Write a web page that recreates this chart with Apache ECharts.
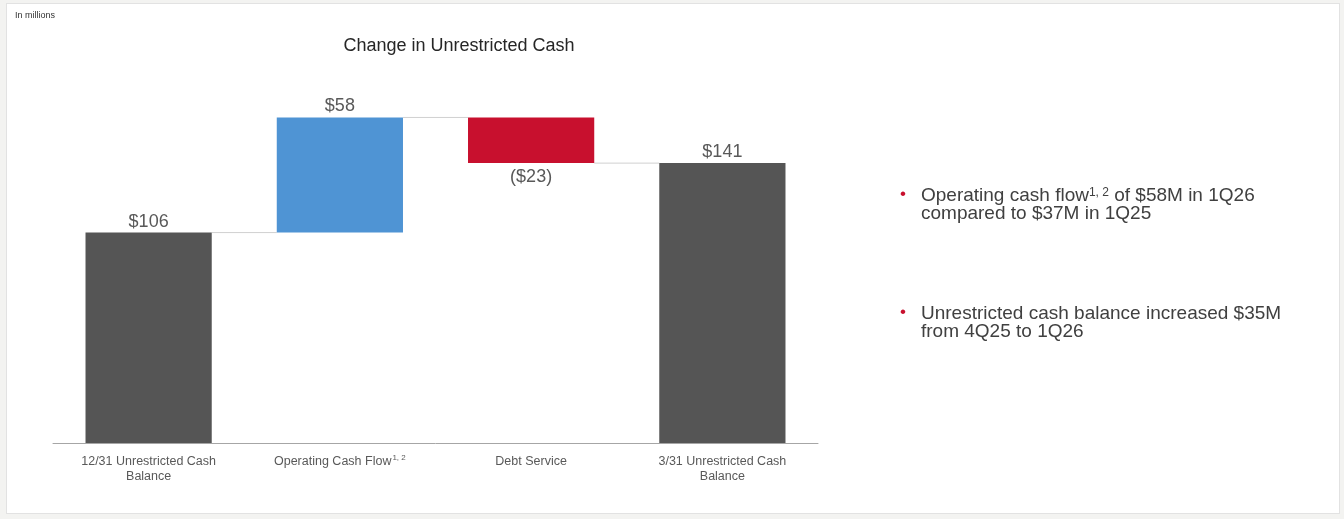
<!DOCTYPE html>
<html>
<head>
<meta charset="utf-8">
<script src="https://cdn.jsdelivr.net/npm/echarts@6/dist/echarts.min.js"></script>
<style>
  html, body { margin: 0; padding: 0; background: #f3f3f1; }
  #frame { position: absolute; left: 6px; top: 3px; width: 1334px; height: 511px; background: #ffffff; border: 1px solid #e2e2e2; box-sizing: border-box; }
  #chart { position: absolute; left: 0; top: 0; width: 1344px; height: 519px; }
</style>
</head>
<body>
<div id="frame"></div>
<div id="chart"></div>
<script>
// Cash walk, in millions
const categories = ['12/31 Unrestricted Cash\nBalance', 'Operating Cash Flow', 'Debt Service', '3/31 Unrestricted Cash\nBalance'];
const changes = [106, 58, -23, 141];          // start balance, flows, end balance
const isTotal = [true, false, false, true];
const barColors = ['#555555', '#4f94d4', '#c8102e', '#555555'];
const bullets = [
  ['Operating cash flow', '1, 2', ' of $58M in 1Q26', 'compared to $37M in 1Q25'],
  ['Unrestricted cash balance increased $35M', '', '', 'from 4Q25 to 1Q26']
];

// Build floating bars: invisible base + visible segment
const base = [], seg = [], levels = [];
let running = 0;
changes.forEach((v, i) => {
  if (isTotal[i]) {
    base.push(0); seg.push(v); running = v;
  } else {
    const next = running + v;
    base.push(Math.min(running, next)); seg.push(Math.abs(v)); running = next;
  }
  levels.push(running);
});

const fmt = v => v < 0 ? '($' + Math.abs(v) + ')' : '$' + v;

const chart = echarts.init(document.getElementById('chart'), null, { renderer: 'canvas' });
const FONT = 'Liberation Sans, Arial, sans-serif';

const bulletGraphics = [];
bullets.forEach((b, i) => {
  const y0 = 185 + i * 118;
  bulletGraphics.push({
    type: 'text', left: 900, top: y0 + 1,
    style: { text: '•', fill: '#c8102e', font: '17px ' + FONT }
  });
  bulletGraphics.push({
    type: 'text', left: 921, top: y0 + 1,
    style: {
      text: '{a|' + b[0] + '}' + (b[1] ? '{s|' + b[1] + '}' : '') + (b[2] ? '{a|' + b[2] + '}' : '') + '\n{a|' + b[3] + '}',
      rich: {
        a: { fontSize: 19, fontFamily: FONT, fill: '#404040', lineHeight: 18 },
        s: { fontSize: 12, fontFamily: FONT, fill: '#404040', lineHeight: 18, verticalAlign: 'top', padding: [0, 0, 7, 0] }
      }
    }
  });
});

chart.setOption({
  animation: false,
  backgroundColor: 'transparent',
  title: {
    text: 'Change in Unrestricted Cash',
    left: 454, top: 32, textAlign: 'center',
    textStyle: { fontSize: 18, fontWeight: 'normal', color: '#262626', fontFamily: FONT }
  },
  graphic: [
    { type: 'text', left: 15, top: 11, style: { text: 'In millions', fill: '#333333', font: '9px ' + FONT } }
  ].concat(bulletGraphics),
  grid: { left: 53, right: 526, top: 46, bottom: 76 },
  xAxis: {
    type: 'category',
    data: categories,
    axisTick: { show: false },
    axisLine: { lineStyle: { color: '#a6a6a6', width: 1 } },
    axisLabel: {
      interval: 0, margin: 11, color: '#595959', fontSize: 12.5, fontFamily: FONT, lineHeight: 15,
      formatter: v => v === 'Operating Cash Flow' ? '{a|' + v + '}{s|1, 2}' : '{a|' + v.replace('\n', '}\n{a|') + '}',
      rich: {
        a: { fontSize: 12.5, color: '#595959', fontFamily: FONT, lineHeight: 15 },
        s: { fontSize: 8, color: '#595959', fontFamily: FONT, lineHeight: 15, verticalAlign: 'top', padding: [0, 0, 5, 1] }
      }
    }
  },
  yAxis: {
    type: 'value', min: 0, max: 200, show: false, splitLine: { show: false }
  },
  series: [
    {
      type: 'bar', stack: 'w', data: base, barWidth: '66%',
      itemStyle: { color: 'transparent' }, silent: true
    },
    {
      type: 'bar', stack: 'w', barWidth: '66%',
      data: seg.map((v, i) => ({
        value: v,
        itemStyle: { color: barColors[i] },
        label: {
          show: true,
          position: changes[i] < 0 ? 'bottom' : 'top',
          distance: changes[i] < 0 ? 5 : 2,
          formatter: () => fmt(changes[i]),
          color: '#595959', fontSize: 18, fontFamily: FONT
        }
      }))
    },
    {
      // connector lines between neighbouring bars at the running level
      type: 'custom',
      silent: true,
      data: levels.slice(0, -1).map((lv, i) => [i, lv]),
      renderItem: (params, api) => {
        const i = api.value(0), lv = api.value(1);
        const p0 = api.coord([i, lv]), p1 = api.coord([i + 1, lv]);
        const half = api.size([1, 0])[0] * 0.33;
        return {
          type: 'line',
          shape: { x1: p0[0] + half, y1: p0[1], x2: p1[0] - half, y2: p1[1] },
          style: { stroke: '#d0d0d0', lineWidth: 1 }
        };
      },
      z: 1
    }
  ]
});
</script>
</body>
</html>
